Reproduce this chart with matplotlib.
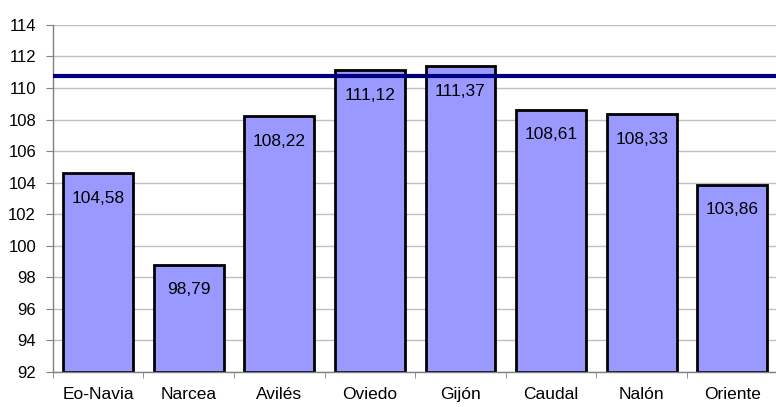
import matplotlib.pyplot as plt
import numpy as np

comarcas = ["Eo-Navia", "Narcea", "Avilés", "Oviedo", "Gijón", "Caudal", "Nalón", "Oriente"]
valores = [104.58, 98.79, 108.22, 111.12, 111.37, 108.61, 108.33, 103.86]
media_asturias = 110.77
y_ticks = list(range(92, 115, 2))

plt.rcParams['font.family'] = ['Liberation Sans', 'DejaVu Sans']

fig = plt.figure(figsize=(7.76, 4.07), dpi=100)
ax = fig.add_axes([0.068, 0.086, 0.934, 0.853])

x = np.arange(len(comarcas))
bars = ax.bar(x, np.array(valores) - 92, bottom=92, width=0.77,
              color='#9999FF', edgecolor='black', linewidth=2, zorder=2)
ax.axhline(media_asturias, color='#000080', linewidth=3, zorder=3)

# etiquetas dentro de las barras, con coma decimal
for xi, v in zip(x, valores):
    ax.annotate(f"{v:.2f}".replace('.', ','), (xi, v), xytext=(0, -18),
                textcoords='offset points', ha='center', va='center',
                fontsize=12.5, color='black', zorder=4)

ax.set_xlim(-0.5, len(comarcas) - 0.5)
ax.set_ylim(92, 114)
ax.set_yticks(y_ticks)
ax.set_yticklabels([str(t) for t in y_ticks], fontsize=12)
ax.yaxis.grid(True, color='#c0c0c0', linewidth=1, zorder=0)
ax.set_axisbelow(True)

ax.set_xticks(x)
ax.set_xticklabels(comarcas, fontsize=12.5)
ax.set_xticks(np.arange(len(comarcas) + 1) - 0.5, minor=True)
ax.tick_params(axis='x', which='major', length=0, pad=11)
ax.tick_params(axis='x', which='minor', length=4, color='#808080', direction='out')
ax.tick_params(axis='y', length=5, color='#808080', direction='out', pad=7)

for s in ['top', 'right']:
    ax.spines[s].set_visible(False)
for s in ['left', 'bottom']:
    ax.spines[s].set_color('#808080')
    ax.spines[s].set_linewidth(1)

fig.savefig('out.png', dpi=100)
